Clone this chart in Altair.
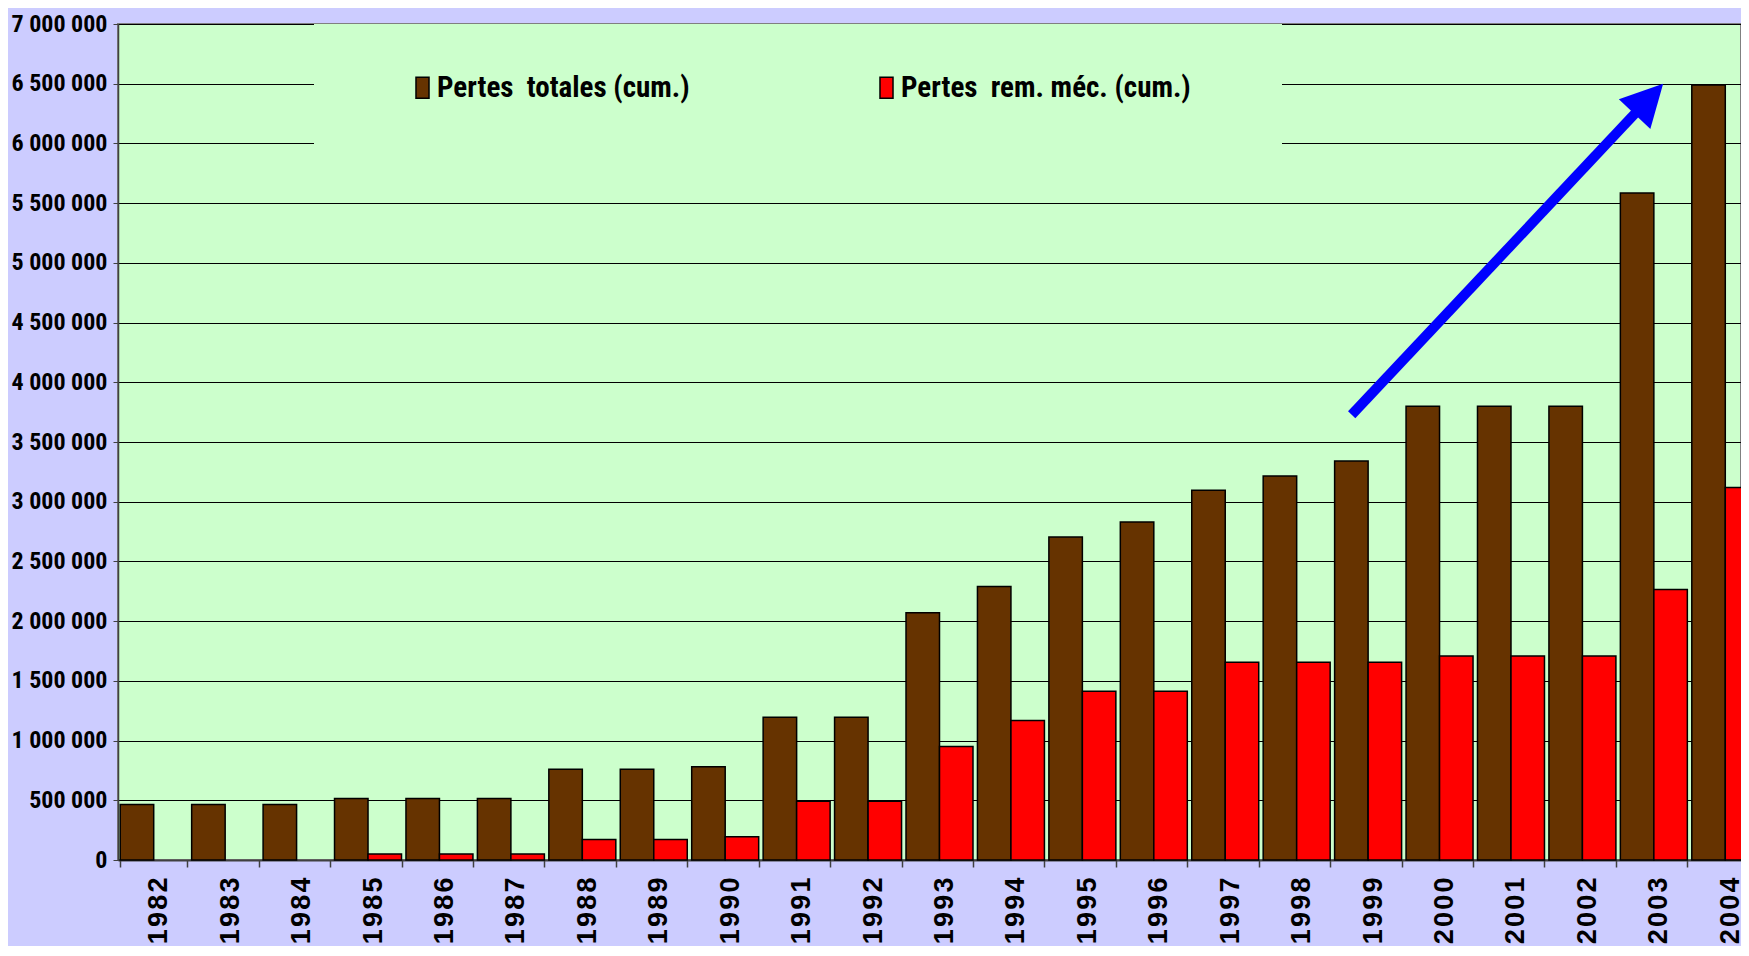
import altair as alt
import pandas as pd

# ---- data ----
years = ["1982", "1983", "1984", "1985", "1986", "1987", "1988", "1989", "1990",
         "1991", "1992", "1993", "1994", "1995", "1996", "1997", "1998", "1999",
         "2000", "2001", "2002", "2003", "2004"]
pertes_totales = [465000, 465000, 465000, 515000, 515000, 515000, 760000, 760000,
                  780000, 1195000, 1195000, 2070000, 2290000, 2705000, 2830000,
                  3095000, 3215000, 3340000, 3800000, 3800000, 3800000, 5585000,
                  6490000]
pertes_rem = [0, 0, 0, 50000, 50000, 50000, 172000, 172000, 195000, 492000, 492000,
              950000, 1168000, 1412000, 1412000, 1655000, 1655000, 1655000,
              1708000, 1708000, 1708000, 2265000, 3118000]
series_names = ["Pertes\u00a0 totales (cum.)", "Pertes\u00a0 rem. méc. (cum.)"]
series_colors = ["#663300", "#FF0000"]
y_ticks = [0, 500000, 1000000, 1500000, 2000000, 2500000, 3000000, 3500000,
           4000000, 4500000, 5000000, 5500000, 6000000, 6500000, 7000000]

# arrow annotation (x in category units, y in data units)
arrow_start_x = [17.27]
arrow_start_y = [3728000]
arrow_shaft_end_x = [21.34]
arrow_shaft_end_y = [6316000]
arrow_tip_x = [21.63]
arrow_tip_y = [6499000]

rows = []
for i, yr in enumerate(years):
    rows.append({"year": yr, "series": series_names[0], "value": pertes_totales[i]})
    rows.append({"year": yr, "series": series_names[1], "value": pertes_rem[i]})
df = pd.DataFrame(rows)

shaft_df = pd.DataFrame({"ax": arrow_start_x, "ax2": arrow_shaft_end_x,
                         "ay": arrow_start_y, "ay2": arrow_shaft_end_y})
head_df = pd.DataFrame({"ax": arrow_tip_x, "ay": arrow_tip_y})

NARROW = "Liberation Sans Narrow, Noto Sans Condensed, Roboto Condensed, Liberation Sans"
X_RANGE = [0, 1643]

y_scale = alt.Scale(domain=[0, 7000000], nice=False, zero=True)

bars = alt.Chart(df).transform_filter("datum.value > 0").mark_bar(
    stroke="black", strokeWidth=1.5, opacity=1).encode(
    x=alt.X("year:N", sort=years,
            scale=alt.Scale(domain=years, range=X_RANGE,
                            paddingInner=0.0623, paddingOuter=0.0311),
            axis=alt.Axis(title=None, labelAngle=270, labelAlign="right",
                          labelBaseline="middle",
                          labelFont="Liberation Sans, Arial, sans-serif",
                          labelFontWeight="bold", labelFontSize=27,
                          labelColor="black", labelPadding=10, labelOffset=5,
                          labelExpr="substring(datum.label,0,1)+'\u200a'+substring(datum.label,1,2)+'\u200a'+substring(datum.label,2,3)+'\u200a'+substring(datum.label,3,4)",
                          tickBand="extent", tickSize=7, tickColor="#404040",
                          tickWidth=1.5, domainColor="#404040", domainWidth=2,
                          grid=False, labelOverlap=False)),
    xOffset=alt.XOffset("series:N", sort=series_names,
                        scale=alt.Scale(domain=series_names,
                                        paddingInner=0, paddingOuter=0)),
    y=alt.Y("value:Q", scale=y_scale,
            axis=alt.Axis(title=None, values=y_ticks, format=",d",
                          labelFont=NARROW, labelFontWeight="bold",
                          labelFontSize=24, labelColor="black",
                          labelPadding=6, tickSize=5, tickColor="#404040",
                          domainColor="#404040", domainWidth=1.5,
                          gridColor="#000000", gridWidth=1, labelOverlap=False)),
    color=alt.Color("series:N", sort=series_names,
                    scale=alt.Scale(domain=series_names, range=series_colors),
                    legend=alt.Legend(
                        orient="none", legendX=196, legendY=0,
                        direction="horizontal", columns=2,
                        fillColor="#CCFFCC", padding=49,
                        title="\u00a0", titleOrient="right", titlePadding=42,
                        titleFontSize=10,
                        symbolType="M-0.62,-1L0.62,-1L0.62,1L-0.62,1Z",
                        symbolSize=441, symbolStrokeColor="black",
                        symbolStrokeWidth=1.5, symbolOpacity=1,
                        symbolOffset=45, labelOffset=0, columnPadding=137,
                        labelFont=NARROW, labelFontSize=29,
                        labelFontWeight="bold", labelColor="black",
                        labelLimit=600)),
)

arrow_x_scale = alt.Scale(domain=[0, 23], range=X_RANGE, nice=False, zero=False)

shaft = alt.Chart(shaft_df).mark_rule(color="#0000FF", strokeWidth=10,
                                      strokeCap="butt").encode(
    x=alt.X("ax:Q", scale=arrow_x_scale, axis=None),
    x2="ax2:Q",
    y=alt.Y("ay:Q", scale=y_scale, title=None),
    y2="ay2:Q",
)

head = alt.Chart(head_df).mark_point(
    shape="M0,0L0.52,1L-0.52,1Z", angle=43.3, size=6922, filled=True,
    color="#0000FF", opacity=1, strokeWidth=0).encode(
    x=alt.X("ax:Q", scale=arrow_x_scale, axis=None),
    y=alt.Y("ay:Q", scale=y_scale, title=None),
)

arrow = alt.layer(shaft, head)

chart = alt.layer(bars, arrow).resolve_scale(x="independent").properties(
    width=1623, height=836,
    autosize=alt.AutoSizeParams(type="none"),
    padding={"left": 110, "top": 16, "right": 0, "bottom": 86},
    background="#CCCCFF",
).configure(
    locale={"number": {"decimal": ",", "thousands": " ", "grouping": [3],
                       "currency": ["", " €"]}}
).configure_view(
    fill="#CCFFCC", stroke="#808080", strokeWidth=2
)

chart.save("out.html", embed_options={"renderer": "svg", "actions": False})
